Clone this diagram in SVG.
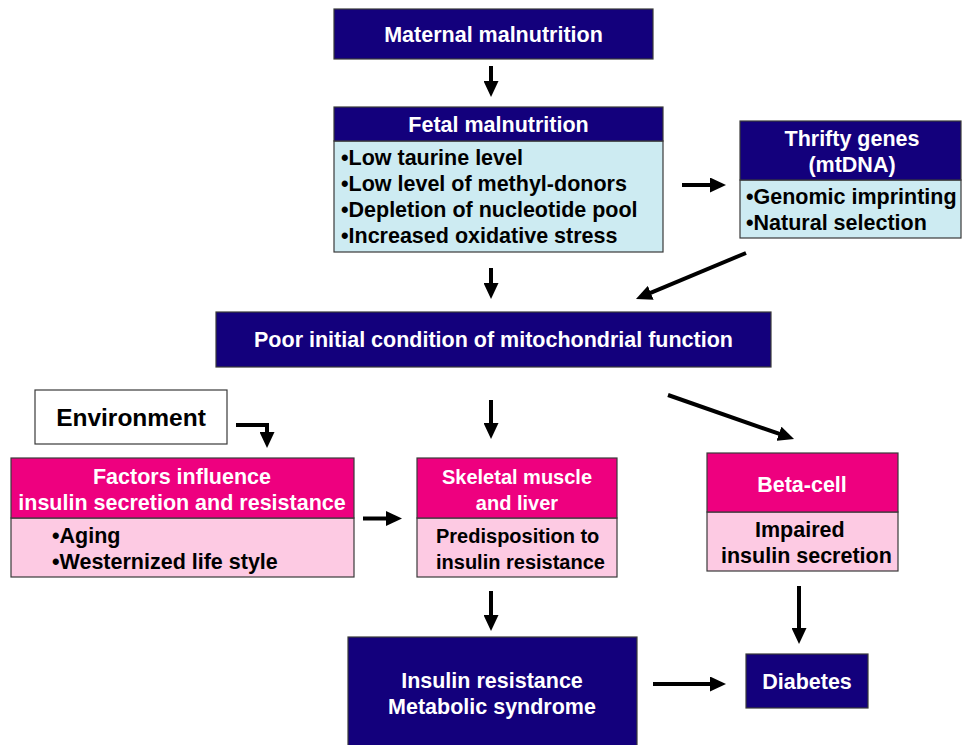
<svg xmlns="http://www.w3.org/2000/svg" width="962" height="745" viewBox="0 0 962 745">
<defs>
<style>
.navy{fill:#13007c;stroke:#3a3a3a;stroke-width:1.2}
.mag{fill:#ee007f;stroke:#3a3a3a;stroke-width:1.2}
.pink{fill:#fdcae3;stroke:#3a3a3a;stroke-width:1.2}
.blue{fill:#cdebf2;stroke:#3a3a3a;stroke-width:1.2}
.plain{fill:#ffffff;stroke:#3a3a3a;stroke-width:1.2}
text{font-family:"Liberation Sans",Arial,sans-serif;font-weight:bold;font-size:21.5px}
.w{fill:#ffffff;text-anchor:middle}
.k{fill:#000000}
.kc{fill:#000000;text-anchor:middle}
.s20{font-size:20px}
.conn{fill:none;stroke:#000;stroke-width:4;marker-end:url(#ah)}
</style>
<marker id="ah" markerUnits="userSpaceOnUse" viewBox="0 0 16 15" markerWidth="16" markerHeight="15" refX="6" refY="7.5" orient="auto">
<path d="M0,0 L16,7.5 L0,15 z" fill="#000"/>
</marker>
</defs>

<g id="connectors">
<line class="conn" x1="491" y1="66" x2="491" y2="87"/>
<line class="conn" x1="682" y1="185" x2="716" y2="185"/>
<line class="conn" x1="746" y1="253" x2="645.2" y2="295.1"/>
<line class="conn" x1="491" y1="268" x2="491" y2="289"/>
<line class="conn" x1="491" y1="400" x2="491" y2="429"/>
<line class="conn" x1="668" y1="395" x2="784.6" y2="435.7"/>
<polyline class="conn" points="236,425 267,425 267,438"/>
<line class="conn" x1="363" y1="518.5" x2="392" y2="518.5"/>
<line class="conn" x1="491" y1="591" x2="491" y2="621"/>
<line class="conn" x1="799" y1="586" x2="799" y2="634"/>
<line class="conn" x1="653" y1="684" x2="716" y2="684"/>
</g>

<g id="maternal">
<rect class="navy" x="334" y="9" width="319" height="50"/>
<text class="w" x="493.5" y="42">Maternal malnutrition</text>
</g>

<g id="fetal">
<rect class="blue" x="334" y="141" width="329" height="111"/>
<rect class="navy" x="334" y="107" width="329" height="34"/>
<text class="w" x="498.5" y="132">Fetal malnutrition</text>
<text class="k" x="341" y="165">•Low taurine level</text>
<text class="k" x="341" y="191">•Low level of methyl-donors</text>
<text class="k" x="341" y="217">•Depletion of nucleotide pool</text>
<text class="k" x="341" y="243">•Increased oxidative stress</text>
</g>

<g id="thrifty">
<rect class="blue" x="740" y="180" width="221" height="58"/>
<rect class="navy" x="740" y="121" width="221" height="59"/>
<text class="w" x="852" y="146">Thrifty genes</text>
<text class="w" x="852" y="172">(mtDNA)</text>
<text class="k" x="746" y="204">•Genomic imprinting</text>
<text class="k" x="746" y="230">•Natural selection</text>
</g>

<g id="poor">
<rect class="navy" x="216" y="312" width="555" height="55"/>
<text class="w" x="493.5" y="347">Poor initial condition of mitochondrial function</text>
</g>

<g id="environment">
<rect class="plain" x="35" y="390" width="192" height="54"/>
<text class="kc" x="131" y="426" style="font-size:24.5px">Environment</text>
</g>

<g id="factors">
<rect class="pink" x="11" y="518" width="343" height="59"/>
<rect class="mag" x="11" y="458" width="343" height="60"/>
<text class="w" x="182" y="484">Factors influence</text>
<text class="w" x="182" y="510">insulin secretion and resistance</text>
<text class="k" x="52" y="543">•Aging</text>
<text class="k" x="52" y="569">•Westernized life style</text>
</g>

<g id="skeletal">
<rect class="pink" x="417" y="518" width="200" height="59"/>
<rect class="mag" x="417" y="458" width="200" height="60"/>
<text class="w s20" x="517" y="484">Skeletal muscle</text>
<text class="w s20" x="517" y="510">and liver</text>
<text class="k s20" x="436" y="543">Predisposition to</text>
<text class="k s20" x="436" y="569">insulin resistance</text>
</g>

<g id="betacell">
<rect class="pink" x="707" y="512" width="191" height="59"/>
<rect class="mag" x="707" y="453" width="191" height="59"/>
<text class="w" x="802" y="492">Beta-cell</text>
<text class="k" x="755" y="537">Impaired</text>
<text class="k" x="721" y="563">insulin secretion</text>
</g>

<g id="insulin-resistance">
<rect class="navy" x="348" y="637" width="289" height="110"/>
<text class="w" x="492" y="688">Insulin resistance</text>
<text class="w" x="492" y="714">Metabolic syndrome</text>
</g>

<g id="diabetes">
<rect class="navy" x="746" y="654" width="122" height="54"/>
<text class="w" x="807" y="689">Diabetes</text>
</g>
</svg>
